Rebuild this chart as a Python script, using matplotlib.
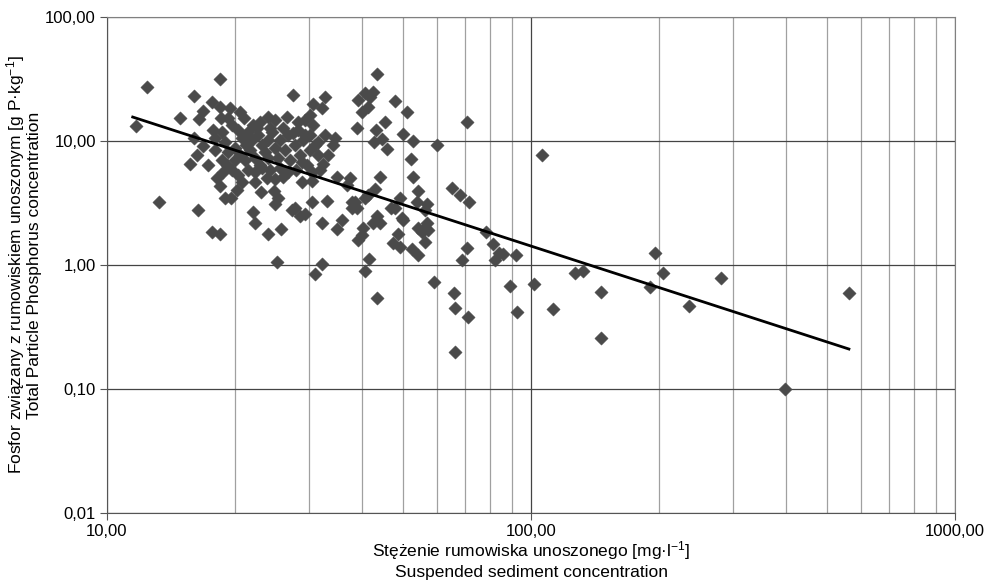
import numpy as np
import matplotlib
matplotlib.use("Agg")
import matplotlib.pyplot as plt
from matplotlib.ticker import FixedLocator, FixedFormatter, NullFormatter

plt.rcParams['font.family'] = ['Liberation Sans', 'DejaVu Sans']
plt.rcParams['mathtext.fontset'] = 'custom'
plt.rcParams['mathtext.rm'] = 'Liberation Sans'
plt.rcParams['mathtext.it'] = 'Liberation Sans'

# suspended sediment concentration [mg/l]
sediment = [
    11.7, 12.4, 13.3, 14.9, 16.0, 18.5, 17.7, 16.8, 18.5, 16.5, 19.3, 18.6, 17.8, 18.7,
    18.0, 19.0, 19.3, 19.2, 18.8, 18.0, 18.7, 17.3, 15.7, 16.3, 16.8, 16.0, 16.4, 17.7,
    18.5, 18.2, 18.5, 19.0, 19.6,
    27.5, 32.7, 30.6, 32.2, 21.1, 24.0, 26.6, 28.2, 30.1, 22.1, 24.2, 29.3, 30.1, 34.5,
    34.1, 31.5, 32.3, 30.5, 28.8, 19.7, 20.4, 20.8, 21.5, 22.0, 22.7, 23.2, 20.0, 20.6,
    21.2, 21.7, 22.3, 23.0, 23.6, 24.0, 24.5, 24.9, 25.3, 25.6, 26.3, 26.7, 27.0, 27.8,
    28.2, 28.5, 29.0, 29.6, 30.1, 30.6, 31.5, 31.8, 32.7, 33.2, 19.7, 20.4, 21.5, 22.3,
    23.2, 24.2, 25.6, 26.7, 27.9, 21.3, 24.0, 26.0, 19.5, 20.6, 23.0, 24.9, 27.5, 29.3,
    31.0, 20.0, 22.6,
    20.8, 22.3, 23.9, 24.9, 26.0, 28.8, 30.5, 20.3, 23.1, 24.8, 25.3, 24.9, 30.5, 33.0,
    27.8, 27.3, 28.5, 29.3, 22.1, 22.3, 32.2, 35.8, 34.9, 25.7, 24.0, 25.2, 32.2, 31.0,
    37.8, 37.8, 34.9, 36.8, 37.4,
    43.3, 40.6, 42.4, 41.7, 39.1, 40.0, 41.3, 47.8, 51.0, 38.9, 43.1, 45.3, 49.9, 52.7,
    42.6, 44.5, 45.8, 60.0, 70.7, 52.1, 44.1, 52.7, 54.1, 49.1, 65.1, 68.0, 71.4, 53.8,
    56.8, 56.2, 47.8, 46.8, 42.9, 41.3, 40.6, 38.5, 38.9, 43.3, 44.1, 42.4, 49.6, 54.1,
    56.2, 55.3, 48.6, 47.3, 49.1, 56.2, 40.2, 40.0, 39.1, 52.4, 54.1, 41.5, 40.6, 70.7,
    68.8, 59.0, 65.8, 43.3, 66.2, 71.1, 66.2, 57.2, 56.8, 49.9,
    78.3, 81.4, 84.0, 82.3, 92.2, 85.9, 89.2, 92.7, 101.6, 106.2, 112.7, 127.0, 132.6,
    146.2, 146.2, 196.1, 204.8, 190.9, 235.9, 280.6, 397.2, 562.3,
]

# total particle phosphorus [g P/kg]
phosphorus = [
    13.2, 27.3, 3.2, 15.3, 23.1, 31.6, 20.6, 17.5, 18.8, 15.0, 15.3, 15.3, 12.3, 11.8,
    10.6, 9.8, 8.2, 6.4, 5.6, 8.5, 7.0, 6.4, 6.5, 7.7, 9.1, 10.6, 2.8, 1.85,
    1.78, 5.0, 4.3, 3.5, 3.5,
    23.5, 22.6, 19.9, 18.5, 15.3, 15.6, 15.6, 14.2, 16.2, 13.5, 12.7, 11.2, 11.2, 10.6,
    9.3, 7.7, 6.5, 5.6, 6.8, 13.5, 12.3, 10.6, 11.8, 10.2, 11.2, 9.3, 8.8, 7.7,
    7.0, 8.5, 7.3, 6.4, 8.2, 10.2, 11.8, 8.8, 7.3, 10.2, 8.5, 11.2, 7.0, 9.3,
    12.3, 7.7, 10.2, 6.4, 8.5, 13.5, 9.8, 5.8, 11.2, 7.7, 5.8, 5.3, 5.8, 5.6,
    6.1, 5.8, 6.1, 5.6, 5.8, 9.3, 7.3, 12.7, 18.5, 17.1, 14.2, 14.8, 11.6, 14.8,
    9.3, 7.0, 12.7,
    4.7, 4.7, 5.0, 4.9, 5.1, 4.7, 4.8, 4.0, 3.9, 3.95, 3.5, 3.1, 3.2, 3.3,
    2.9, 2.8, 2.5, 2.6, 2.7, 2.2, 2.2, 2.3, 1.95, 1.95, 1.78, 1.06, 1.02, 0.85,
    3.2, 2.9, 5.1, 4.4, 5.0,
    34.7, 24.4, 24.8, 22.6, 21.4, 17.1, 18.8, 21.0, 17.1, 12.7, 12.3, 14.2, 11.4, 10.0,
    9.8, 10.4, 8.6, 9.3, 14.2, 7.2, 5.1, 5.1, 3.95, 3.5, 4.2, 3.7, 3.2, 3.2,
    3.1, 2.8, 2.9, 2.9, 4.1, 3.7, 3.5, 3.2, 2.9, 2.5, 2.2, 2.2, 2.4, 2.0,
    2.0, 1.85, 1.78, 1.5, 1.4, 1.53, 2.0, 1.75, 1.6, 1.35, 1.2, 1.12, 0.89, 1.37,
    1.1, 0.73, 0.59, 0.54, 0.45, 0.38, 0.20, 1.9, 2.2, 2.3,
    1.85, 1.48, 1.25, 1.1, 1.2, 1.23, 0.68, 0.42, 0.70, 7.7, 0.44, 0.86, 0.89,
    0.61, 0.26, 1.25, 0.86, 0.66, 0.47, 0.79, 0.10, 0.59,
]

# power-law trend line end points
trend_x = [11.5, 562.0]
trend_y = [15.6, 0.21]

x_ticks = [10, 100, 1000]
x_labels = ["10,00", "100,00", "1000,00"]
y_ticks = [0.01, 0.1, 1, 10, 100]
y_labels = ["0,01", "0,10", "1,00", "10,00", "100,00"]

fig = plt.figure(figsize=(9.97, 5.84), dpi=100)
ax = fig.add_axes([0.1073, 0.1216, 0.8506, 0.8493])

ax.set_xscale("log")
ax.set_yscale("log")
ax.set_xlim(10, 1000)
ax.set_ylim(0.01, 100)

# grid
ax.xaxis.set_major_locator(FixedLocator(x_ticks))
ax.xaxis.set_major_formatter(FixedFormatter(x_labels))
minor_x = [m * d for d in (10, 100) for m in range(2, 10)]
ax.xaxis.set_minor_locator(FixedLocator(minor_x))
ax.xaxis.set_minor_formatter(NullFormatter())
ax.yaxis.set_major_locator(FixedLocator(y_ticks))
ax.yaxis.set_major_formatter(FixedFormatter(y_labels))
ax.yaxis.set_minor_locator(FixedLocator([]))

ax.grid(True, which="major", axis="both", color="#444444", lw=0.9)
ax.grid(True, which="minor", axis="x", color="#a0a0a0", lw=0.9)
ax.set_axisbelow(True)

ax.tick_params(which="major", direction="out", length=5, width=0.8,
               color="#555555", labelsize=12, pad=3)
ax.tick_params(which="minor", length=0)

for side in ("left", "bottom"):
    ax.spines[side].set_color("#555555")
for side in ("right", "top"):
    ax.spines[side].set_color("#808080")

ax.scatter(sediment, phosphorus, marker="D", s=46, color="#4a4a4a",
           edgecolors="#4a4a4a", linewidths=0.3, zorder=3)
ax.plot(trend_x, trend_y, color="black", lw=2, zorder=4)

ax.set_xlabel("Stężenie rumowiska unoszonego [mg·l$^{-1}$]\nSuspended sediment concentration",
              fontsize=12.5, labelpad=0, linespacing=1.25)
ax.set_ylabel("Fosfor związany z rumowiskiem unoszonym [g P·kg$^{-1}$]\nTotal Particle Phosphorus concentration",
              fontsize=12.5, labelpad=2, linespacing=1.05)

fig.savefig("out.png", dpi=100)
